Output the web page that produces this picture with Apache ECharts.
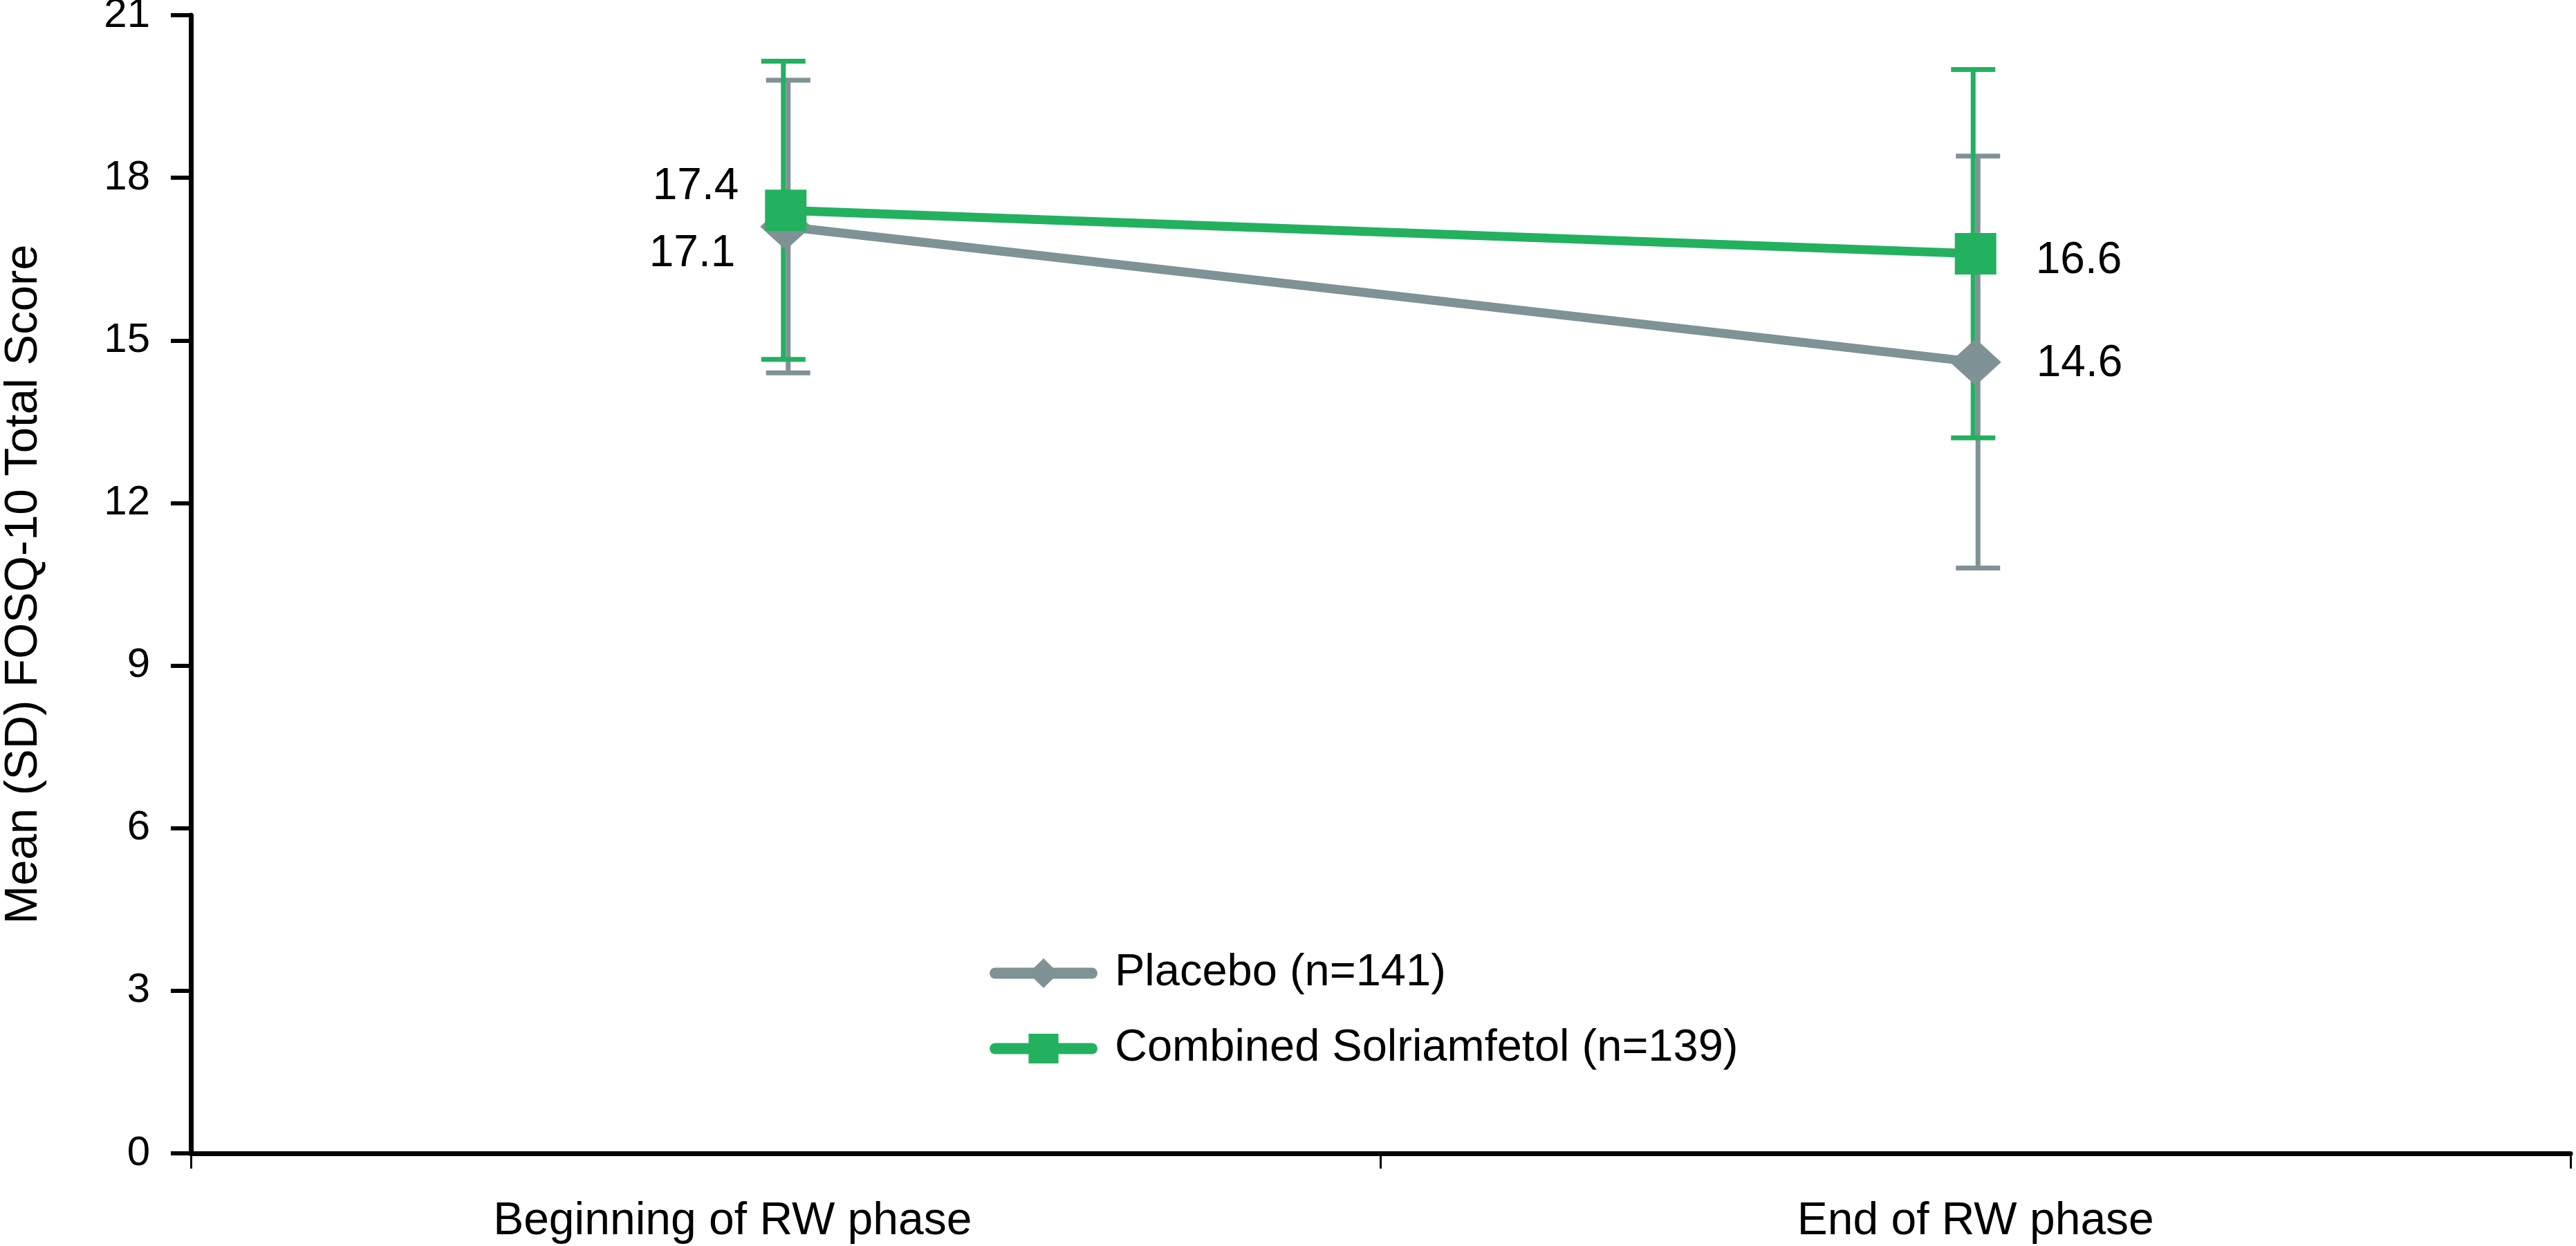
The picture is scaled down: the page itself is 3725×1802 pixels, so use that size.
<!DOCTYPE html>
<html><head><meta charset="utf-8">
<script src="https://cdn.jsdelivr.net/npm/echarts@6/dist/echarts.min.js"></script>
<style>html,body{margin:0;padding:0;background:#fff}#c{width:3725px;height:1802px}</style>
</head><body><div id="c"></div>
<script>
// ---- data ----
const categories = ['Beginning of RW phase', 'End of RW phase'];
const placeboName = 'Placebo (n=141)';
const solriName = 'Combined Solriamfetol (n=139)';
const placeboMean = [17.1, 14.6];
const placeboSD = [2.7, 3.8];
const solriMean = [17.4, 16.6];
const solriSD = [2.75, 3.4];
const yMin = 0, yMax = 21, yInterval = 3;
const yTitle = 'Mean (SD) FOSQ-10 Total Score';

// ---- style ----
const GRAY = '#7f9296', GREEN = '#23b160';
const FONT = '"Liberation Sans", Arial, Helvetica, sans-serif';

// label placement per point (style only)
const placeboLabelCfg = [
  {position: 'left', distance: 36, offset: [0, 40]},
  {position: 'right', distance: 51, offset: [0, 3]}
];
const solriLabelCfg = [
  {position: 'left', distance: 38, offset: [0, -34]},
  {position: 'right', distance: 57, offset: [0, 10]}
];
// category label horizontal shift (style only): right padding per category
const catLabelPad = [154, 0];

function lineData(mean, cfg) {
  return mean.map((v, i) => ({value: v, label: Object.assign({show: true}, cfg[i])}));
}
function errData(mean, sd) {
  return mean.map((m, i) => [i, m - sd[i], m + sd[i]]);
}
function errRender(dx, color) {
  return function (params, api) {
    const p1 = api.coord([api.value(0), api.value(1)]);
    const p2 = api.coord([api.value(0), api.value(2)]);
    const x = p1[0] + dx, lo = p1[1], hi = p2[1];
    const hw = 32;
    const style = {stroke: color, lineWidth: 7, fill: null, lineCap: 'butt'};
    return {type: 'group', children: [
      {type: 'line', shape: {x1: x, y1: lo, x2: x, y2: hi}, style: style},
      {type: 'line', shape: {x1: x - hw, y1: hi, x2: x + hw, y2: hi}, style: style},
      {type: 'line', shape: {x1: x - hw, y1: lo, x2: x + hw, y2: lo}, style: style}
    ]};
  };
}

const rich = {};
catLabelPad.forEach((p, i) => {
  rich['c' + i] = {fontSize: 66, color: '#000', fontFamily: FONT, padding: [0, p, 0, 0]};
});

const chart = echarts.init(document.getElementById('c'), null, {renderer: 'canvas'});
chart.setOption({
  animation: false,
  backgroundColor: '#fff',
  textStyle: {fontFamily: FONT},
  grid: {left: 276, right: 8, top: 22, bottom: 134, containLabel: false, outerBoundsMode: 'none'},
  legend: {
    orient: 'vertical', left: 1426, top: 1370,
    itemWidth: 140, itemHeight: 54, itemGap: 44,
    data: [placeboName, solriName],
    textStyle: {fontSize: 65, fontFamily: FONT, color: '#000', padding: [0, 0, 0, 28]},
    lineStyle: {width: 16, cap: 'round'}
  },
  xAxis: {
    type: 'category', data: categories, boundaryGap: true,
    axisLine: {lineStyle: {color: '#000', width: 7}},
    axisTick: {show: true, length: 22, lineStyle: {color: '#000', width: 3}},
    axisLabel: {
      fontSize: 66, color: '#000', fontFamily: FONT, margin: 66,
      formatter: function (v, i) { return '{c' + i + '|' + v + '}'; },
      rich: rich
    }
  },
  yAxis: {
    type: 'value', min: yMin, max: yMax, interval: yInterval,
    name: yTitle, nameLocation: 'middle', nameGap: 208,
    nameTextStyle: {fontSize: 67, color: '#000', fontFamily: FONT},
    splitLine: {show: false},
    axisLine: {show: true, lineStyle: {color: '#000', width: 7}},
    axisTick: {show: true, length: 29, lineStyle: {color: '#000', width: 6}},
    axisLabel: {fontSize: 60, color: '#000', fontFamily: FONT, margin: 59}
  },
  series: [
    {type: 'custom', name: 'placeboErr', renderItem: errRender(3.5, GRAY),
     data: errData(placeboMean, placeboSD), encode: {x: 0, y: [1, 2]}, z: 1, silent: true},
    {type: 'custom', name: 'solriErr', renderItem: errRender(-3.5, GREEN),
     data: errData(solriMean, solriSD), encode: {x: 0, y: [1, 2]}, z: 2, silent: true},
    {type: 'line', name: placeboName, data: lineData(placeboMean, placeboLabelCfg),
     symbol: 'diamond', symbolSize: [74, 68], z: 3,
     lineStyle: {color: GRAY, width: 13}, itemStyle: {color: GRAY},
     label: {show: true, fontSize: 64, color: '#000', fontFamily: FONT}},
    {type: 'line', name: solriName, data: lineData(solriMean, solriLabelCfg),
     symbol: 'rect', symbolSize: 60, z: 4,
     lineStyle: {color: GREEN, width: 13}, itemStyle: {color: GREEN},
     label: {show: true, fontSize: 64, color: '#000', fontFamily: FONT}}
  ]
});
</script></body></html>
